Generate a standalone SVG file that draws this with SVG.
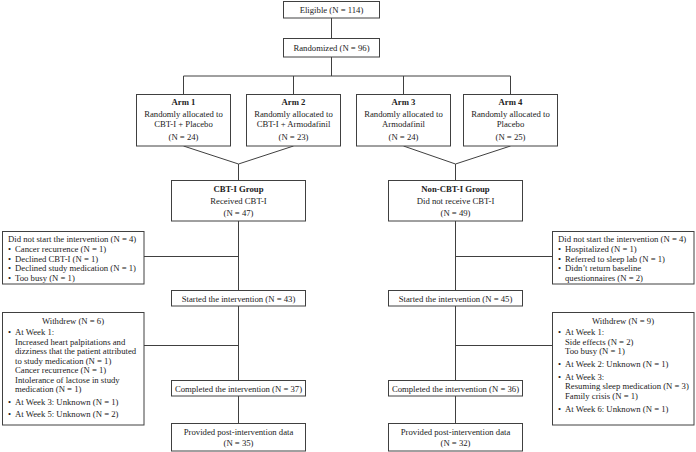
<svg xmlns="http://www.w3.org/2000/svg" width="696" height="452" viewBox="0 0 696 452">
<style>
rect.b{fill:#fff;stroke:#404040;stroke-width:1}
text{font-family:"Liberation Serif","Times New Roman",serif;font-size:8.7px;fill:#222}
.c{text-anchor:middle}
.h{font-weight:bold}
#connectors line,#connectors polyline{stroke:#404040;stroke-width:1;fill:none}
</style>
<rect width="696" height="452" fill="#fff"/>
<g id="connectors">
<line x1="331.5" y1="18" x2="331.5" y2="38"/>
<line x1="331.5" y1="57" x2="331.5" y2="76"/>
<line x1="183.5" y1="76" x2="510.5" y2="76"/>
<line x1="183.5" y1="76" x2="183.5" y2="94"/>
<line x1="293.5" y1="76" x2="293.5" y2="94"/>
<line x1="403.5" y1="76" x2="403.5" y2="94"/>
<line x1="510.5" y1="76" x2="510.5" y2="94"/>
<polyline points="183.5,146 238.5,164 293.5,146"/>
<polyline points="403.5,146 455.5,164 510.5,146"/>
<line x1="238.5" y1="164" x2="238.5" y2="180"/>
<line x1="455.5" y1="164" x2="455.5" y2="180"/>
<line x1="238.5" y1="221" x2="238.5" y2="290"/>
<line x1="238.5" y1="306" x2="238.5" y2="380"/>
<line x1="238.5" y1="396" x2="238.5" y2="423"/>
<line x1="455.5" y1="221" x2="455.5" y2="290"/>
<line x1="455.5" y1="306" x2="455.5" y2="380"/>
<line x1="455.5" y1="396" x2="455.5" y2="423"/>
<line x1="144" y1="256.5" x2="238.5" y2="256.5"/>
<line x1="455.5" y1="256.5" x2="552" y2="256.5"/>
<line x1="144" y1="345.5" x2="238.5" y2="345.5"/>
<line x1="455.5" y1="345.5" x2="552" y2="345.5"/>
</g>
<g id="eligible"><rect class="b" x="283.5" y="1.5" width="96" height="16.5"/><text class="c" x="331.5" y="13">Eligible (N = 114)</text></g>
<g id="randomized"><rect class="b" x="283.5" y="38.5" width="96" height="18.5"/><text class="c" x="331.5" y="50.5">Randomized (N = 96)</text></g>
<g id="arm1"><rect class="b" x="136.5" y="94.5" width="94" height="51.5"/>
<text class="c h" x="183.5" y="105">Arm 1</text><text class="c" x="183.5" y="117">Randomly allocated to</text><text class="c" x="183.5" y="127">CBT-I + Placebo</text><text class="c" x="183.5" y="139.5">(N = 24)</text></g>
<g id="arm2"><rect class="b" x="246.5" y="94.5" width="94" height="51.5"/>
<text class="c h" x="293.5" y="105">Arm 2</text><text class="c" x="293.5" y="117">Randomly allocated to</text><text class="c" x="293.5" y="127">CBT-I + Armodafinil</text><text class="c" x="293.5" y="139.5">(N = 23)</text></g>
<g id="arm3"><rect class="b" x="356.5" y="94.5" width="94" height="51.5"/>
<text class="c h" x="403.5" y="105">Arm 3</text><text class="c" x="403.5" y="117">Randomly allocated to</text><text class="c" x="403.5" y="127">Armodafinil</text><text class="c" x="403.5" y="139.5">(N = 24)</text></g>
<g id="arm4"><rect class="b" x="463.5" y="94.5" width="94" height="51.5"/>
<text class="c h" x="510.5" y="105">Arm 4</text><text class="c" x="510.5" y="117">Randomly allocated to</text><text class="c" x="510.5" y="127">Placebo</text><text class="c" x="510.5" y="139.5">(N = 25)</text></g>
<g id="cbti"><rect class="b" x="171.5" y="180.5" width="134" height="40.5"/>
<text class="c h" x="238.5" y="191.5">CBT-I Group</text><text class="c" x="238.5" y="203.5">Received CBT-I</text><text class="c" x="238.5" y="215.5">(N = 47)</text></g>
<g id="noncbti"><rect class="b" x="388.5" y="180.5" width="134" height="40.5"/>
<text class="c h" x="455.5" y="191.5">Non-CBT-I Group</text><text class="c" x="455.5" y="203.5">Did not receive CBT-I</text><text class="c" x="455.5" y="215.5">(N = 49)</text></g>
<g id="left-notstart"><rect class="b" x="2.5" y="231.5" width="141.5" height="52.5"/>
<text x="8" y="242">Did not start the intervention (N = 4)</text>
<text x="8" y="252">•</text><text x="15" y="252">Cancer recurrence (N = 1)</text>
<text x="8" y="261.5">•</text><text x="15" y="261.5">Declined CBT-I (N = 1)</text>
<text x="8" y="271">•</text><text x="15" y="271">Declined study medication (N = 1)</text>
<text x="8" y="280.5">•</text><text x="15" y="280.5">Too busy (N = 1)</text></g>
<g id="right-notstart"><rect class="b" x="552.5" y="231.5" width="141.5" height="52.5"/>
<text x="558" y="242">Did not start the intervention (N = 4)</text>
<text x="558" y="252">•</text><text x="565" y="252">Hospitalized (N = 1)</text>
<text x="558" y="261.5">•</text><text x="565" y="261.5">Referred to sleep lab (N = 1)</text>
<text x="558" y="271">•</text><text x="565" y="271">Didn’t return baseline</text>
<text x="565" y="280.5">questionnaires (N = 2)</text></g>
<g id="left-started"><rect class="b" x="171.5" y="290.5" width="134" height="15.5"/><text class="c" x="238.5" y="301.5">Started the intervention (N = 43)</text></g>
<g id="right-started"><rect class="b" x="388.5" y="290.5" width="134" height="15.5"/><text class="c" x="455.5" y="301.5">Started the intervention (N = 45)</text></g>
<g id="left-withdrew"><rect class="b" x="2.5" y="312.5" width="141.5" height="112.5"/>
<text class="c" x="73" y="324">Withdrew (N = 6)</text>
<text x="8" y="335">•</text><text x="15" y="335">At Week 1:</text>
<text x="15" y="344.5">Increased heart palpitations and</text>
<text x="15" y="354">dizziness that the patient attributed</text>
<text x="15" y="363.5">to study medication (N = 1)</text>
<text x="15" y="373">Cancer recurrence (N = 1)</text>
<text x="15" y="382.5">Intolerance of lactose in study</text>
<text x="15" y="392">medication (N = 1)</text>
<text x="8" y="405">•</text><text x="15" y="405">At Week 3: Unknown (N = 1)</text>
<text x="8" y="417">•</text><text x="15" y="417">At Week 5: Unknown (N = 2)</text></g>
<g id="right-withdrew"><rect class="b" x="552.5" y="312.5" width="141.5" height="112.5"/>
<text class="c" x="623" y="324">Withdrew (N = 9)</text>
<text x="558" y="335">•</text><text x="565" y="335">At Week 1:</text>
<text x="565" y="344.5">Side effects (N = 2)</text>
<text x="565" y="354">Too busy (N = 1)</text>
<text x="558" y="367">•</text><text x="565" y="367">At Week 2: Unknown (N = 1)</text>
<text x="558" y="379.5">•</text><text x="565" y="379.5">At Week 3:</text>
<text x="565" y="389">Resuming sleep medication (N = 3)</text>
<text x="565" y="398.5">Family crisis (N = 1)</text>
<text x="558" y="411.5">•</text><text x="565" y="411.5">At Week 6: Unknown (N = 1)</text></g>
<g id="left-completed"><rect class="b" x="171.5" y="380.5" width="134" height="15.5"/><text class="c" x="238.5" y="391.5">Completed the intervention (N = 37)</text></g>
<g id="right-completed"><rect class="b" x="388.5" y="380.5" width="134" height="15.5"/><text class="c" x="455.5" y="391.5">Completed the intervention (N = 36)</text></g>
<g id="left-provided"><rect class="b" x="171.5" y="423.5" width="134" height="27.5"/><text class="c" x="238.5" y="434.5">Provided post-intervention data</text><text class="c" x="238.5" y="446">(N = 35)</text></g>
<g id="right-provided"><rect class="b" x="388.5" y="423.5" width="134" height="27.5"/><text class="c" x="455.5" y="434.5">Provided post-intervention data</text><text class="c" x="455.5" y="446">(N = 32)</text></g>
</svg>
